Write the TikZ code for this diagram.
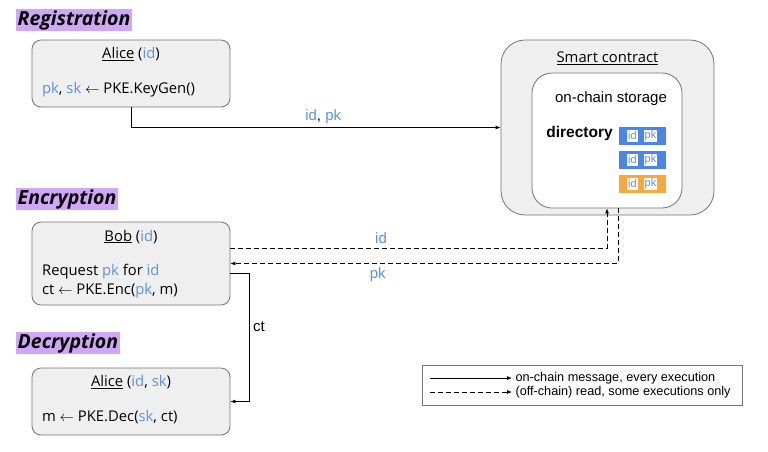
\documentclass[tikz,border=0pt]{standalone}
\usepackage{fontspec}
\setmainfont{Open Sans}
\newfontfamily\arialfont{Liberation Sans}
\usetikzlibrary{arrows.meta,positioning}

\definecolor{boxgray}{RGB}{239,239,239}
\definecolor{edgegray}{RGB}{115,115,115}
\definecolor{keyblue}{RGB}{74,134,232}
\definecolor{txtblue}{RGB}{90,145,236}
\definecolor{recorange}{RGB}{247,170,60}
\definecolor{phasepurple}{RGB}{208,166,247}

\newcommand{\bl}[1]{\textcolor{txtblue}{#1}}

\tikzset{
  phase/.style={anchor=west, fill=phasepurple, inner xsep=1.5pt, inner ysep=1.5pt,
    font=\fontsize{19.5}{22}\selectfont\bfseries\itshape},
  party/.style={draw=edgegray, fill=boxgray, line width=0.8pt, rounded corners=9pt,
    minimum width=198pt, minimum height=67pt},
  body/.style={anchor=west, font=\fontsize{14.8}{17}\selectfont},
  title/.style={font=\fontsize{14.8}{17}\selectfont},
  label/.style={font=\arialfont\fontsize{15}{17}\selectfont},
  record/.style={minimum width=47pt, minimum height=18pt, inner sep=0pt},
  field/.style={fill=white, inner sep=0pt, minimum height=12pt, text=txtblue,
    font=\arialfont\fontsize{11}{12}\selectfont},
  msg/.style={line width=0.8pt, -{Latex[length=5pt,width=4pt]}},
  read/.style={msg, dash pattern=on 5pt off 3pt}
}

\begin{document}
\begin{tikzpicture}[x=1pt,y=-1pt]
  \useasboundingbox (0,0) rectangle (768,451);

  % Phase headings
  \node[phase] (reg) at (16,20) {Registration};
  \node[phase] (enc) at (16,199) {Encryption};
  \node[phase] (dec) at (16,343) {Decryption};

  % Registration box
  \node[party] (alicereg) at (131,73.5) {};
  \node[title] at ([yshift=-14.5pt]alicereg.north) {\underline{Alice} (\bl{id})};
  \node[body] at ([xshift=7pt,yshift=-16pt]alicereg.west) {\bl{pk}, \bl{sk} $\leftarrow$ PKE.KeyGen()};

  % Encryption box
  \node[party, minimum height=83pt] (bob) at (131,263.5) {};
  \node[title] at ([yshift=-15pt]bob.north) {\underline{Bob} (\bl{id})};
  \node[body] at ([xshift=7pt,yshift=-8pt]bob.west) {Request \bl{pk} for \bl{id}};
  \node[body] at ([xshift=7pt,yshift=-27pt]bob.west) {ct $\leftarrow$ PKE.Enc(\bl{pk}, m)};

  % Decryption box
  \node[party] (alicedec) at (131,401.5) {};
  \node[title] at ([yshift=-14.5pt]alicedec.north) {\underline{Alice} (\bl{id}, \bl{sk})};
  \node[body] at ([xshift=7pt,yshift=-16pt]alicedec.west) {m $\leftarrow$ PKE.Dec(\bl{sk}, ct)};

  % Smart contract with its storage
  \node[party, rounded corners=24pt, minimum width=213pt, minimum height=175pt] (contract) at (607.5,127.5) {};
  \node[title] at ([yshift=-19pt]contract.north) {\underline{Smart contract}};
  \node[party, fill=white, rounded corners=20pt, minimum width=150pt, minimum height=135pt] (storage) at (607,140.5) {};
  \node[label] (onchain) at (611,99) {on-chain storage};
  \node[label, font=\arialfont\fontsize{15.5}{17}\selectfont\bfseries] (directory) at (579.5,133) {directory};

  % Directory records
  \foreach \y/\c [count=\i] in {136/keyblue,160/keyblue,184/recorange} {
    \node[record, fill=\c] (rec\i) at (642.5,\y) {};
    \node[field, minimum width=11pt] at ([xshift=-10pt]rec\i.center) {id};
    \node[field, minimum width=13pt] at ([xshift=8pt]rec\i.center) {pk};
  }

  % Messages
  \draw[msg] (alicereg.south) |- (contract.west)
    node[label, pos=0.76, above] {\bl{id}, \bl{pk}};
  \draw[read] ([yshift=15.5pt]bob.east) -| (storage.south)
    node[label, pos=0.2, above, yshift=1pt] {\bl{id}};
  \draw[read] ([xshift=11pt]storage.south) |- (bob.east)
    node[label, pos=0.81, below] {\bl{pk}};
  \draw[msg] ([yshift=-9.5pt]bob.east) -- ++(19,0) |- (alicedec.east)
    node[label, pos=0.21, right] {ct};

  % Legend
  \node[draw=edgegray, line width=0.8pt, minimum width=320pt, minimum height=40pt] (legend) at (582.5,385) {};
  \node[anchor=west, font=\arialfont\fontsize{12.7}{14}\selectfont] (legmsg) at (512,378) {on-chain message, every execution};
  \node[anchor=west, font=\arialfont\fontsize{12.7}{14}\selectfont] (legread) at (512,392) {(off-chain) read, some executions only};
  \draw[msg] ([xshift=-82pt]legmsg.west) -- (legmsg.west);
  \draw[read] ([xshift=-82pt]legread.west) -- (legread.west);
\end{tikzpicture}
\end{document}
